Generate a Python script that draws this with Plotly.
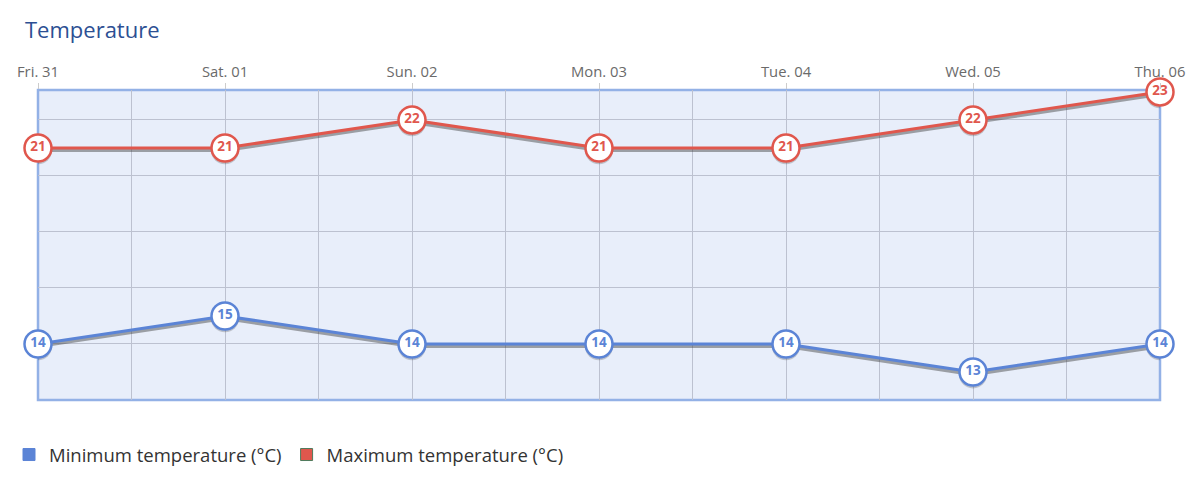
import plotly.graph_objects as go

days = ["Fri. 31", "Sat. 01", "Sun. 02", "Mon. 03", "Tue. 04", "Wed. 05", "Thu. 06"]
min_temp = [14, 15, 14, 14, 14, 13, 14]
max_temp = [21, 21, 22, 21, 21, 22, 23]
series_names = ["Minimum temperature (°C)", "Maximum temperature (°C)"]

BLUE = "#5b84d6"
RED = "#e0574d"
FONT = "Open Sans"
GRID = "#bcc1d0"

xs = list(range(len(days)))
Y_RANGE = [12, 23.07]
SHIFT = 0.085  # shadow offset in data units (~2.4px)

fig = go.Figure()

# shadows (on base axis, shifted range)
for vals in (min_temp, max_temp):
    fig.add_trace(go.Scatter(
        x=xs, y=vals, mode="lines+markers", yaxis="y", showlegend=False, hoverinfo="skip",
        line=dict(color="rgba(60,60,60,0.45)", width=3.5),
        marker=dict(size=28, color="rgba(60,60,60,0.25)", line=dict(width=0)),
    ))

# main series
for vals, col, name in ((min_temp, BLUE, series_names[0]), (max_temp, RED, series_names[1])):
    fig.add_trace(go.Scatter(
        x=xs, y=vals, mode="lines+markers+text", yaxis="y2", showlegend=False, name=name,
        text=[str(v) for v in vals], textposition="middle center",
        textfont=dict(family=FONT, size=13.5, color=col, weight="bold"),
        line=dict(color=col, width=3),
        marker=dict(size=27, color="white", line=dict(color=col, width=2.5)),
        cliponaxis=False,
    ))

# legend entries
fig.add_trace(go.Bar(x=[None], y=[None], name=series_names[0],
                     marker=dict(color=BLUE, line=dict(color=BLUE, width=1))))
fig.add_trace(go.Bar(x=[None], y=[None], name=series_names[1],
                     marker=dict(color=RED, line=dict(color="#4f7a5c", width=1))))

fig.update_layout(
    width=1200, height=489,
    margin=dict(l=38, r=40, t=90, b=89),
    paper_bgcolor="white", plot_bgcolor="#e8eefa",
    font=dict(family=FONT, color="#666666"),
    title=dict(text="Temperature", x=25 / 1200, xanchor="left", xref="container",
               y=1 - 30 / 489, yanchor="middle", yref="container",
               font=dict(family=FONT, size=22, color="#2c4f93")),
    xaxis=dict(range=[0, 6], side="top", tickvals=xs, ticktext=days,
               tickfont=dict(size=14.8, color="#6a6a6a"), ticks="outside", ticklen=6,
               tickcolor="#cccccc", showgrid=True, gridcolor=GRID, gridwidth=1,
               minor=dict(dtick=0.5, tick0=0, showgrid=True, gridcolor=GRID, ticks=""),
               zeroline=False, fixedrange=True),
    yaxis=dict(range=[Y_RANGE[0] + SHIFT, Y_RANGE[1] + SHIFT], showgrid=False,
               showticklabels=False, zeroline=False),
    yaxis2=dict(range=Y_RANGE, overlaying="y", dtick=2, tick0=0, showgrid=True,
                gridcolor=GRID, showticklabels=False, zeroline=False),
    legend=dict(orientation="h", xref="container", yref="container",
                x=9 / 1200, y=1 - 455 / 489, xanchor="left", yanchor="middle",
                font=dict(family=FONT, size=18.5, color="#333333"), itemwidth=30,
                tracegroupgap=0),
    shapes=[dict(type="rect", xref="paper", yref="paper", x0=0, x1=1, y0=0, y1=1,
                 line=dict(color="#93b1e6", width=2.5), layer="below")],
)

fig.write_html("out.html")
